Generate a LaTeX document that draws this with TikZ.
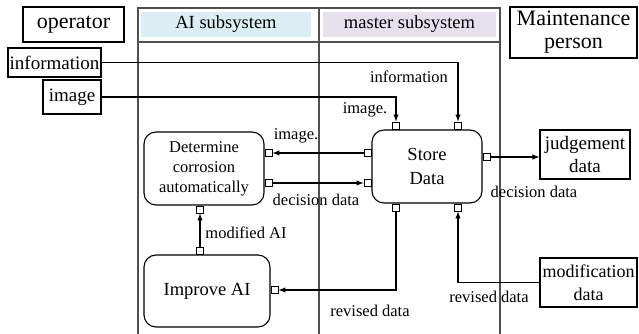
\documentclass[tikz,border=0pt]{standalone}
\usepackage{fontspec}
\setmainfont{Liberation Serif}
\usepackage{tikz}
\usetikzlibrary{shapes, arrows}
\definecolor{aiblue}{RGB}{218,238,243}
\definecolor{mastpurple}{RGB}{229,224,236}
\definecolor{framegray}{RGB}{80,80,80}
\tikzset{
  every port/.style={
    rectangle,
    draw,
    fill=white,
    line width=0.9pt,
    minimum size=7pt,
    inner sep=0pt
  },
  header/.style={
    rectangle,
    minimum height=25pt,
    inner sep=0pt,
    font=\fontsize{18.5}{20}\selectfont
  },
}
\tikzstyle{block} = [rectangle, rounded corners=12pt, draw=black, line width=1.1pt, align=center, inner sep=0pt, font=\fontsize{18.5}{24}\selectfont]
\tikzstyle{ext} = [rectangle, draw=black, line width=1.1pt, align=center, inner sep=0pt, font=\fontsize{19}{23}\selectfont]
\tikzstyle{lbl} = [inner sep=0pt, font=\fontsize{16.5}{18}\selectfont]
\tikzstyle{arrow} = [line width=1.4pt,->,>=latex]

\begin{document}
\begin{tikzpicture}[x=1pt, y=-1pt]
        \useasboundingbox (0,0) rectangle (639,334);
        % frame
        \node [header, fill=aiblue, minimum width=170pt] (aihead) at (226,24.5) {AI subsystem};
        \node [header, fill=mastpurple, minimum width=173pt] (masthead) at (409.5,24.5) {master subsystem};
        \draw [framegray, line width=1.3pt] (138,334) -- (138,8) -- (500,8) -- (500,334);
        \draw [framegray, line width=1.3pt] (138,42) -- (500,42);
        \draw [framegray, line width=1.3pt] (319,8) -- (319,334);

        % outside blocks
        \node [ext, minimum width=101pt, minimum height=35pt, font=\fontsize{22}{23}\selectfont] (operator) at (73.5,24.5) {operator};
        \node [ext, minimum width=127pt, minimum height=51pt, font=\fontsize{22}{23}\selectfont] (maint) at (573.5,32.5) {Maintenance\\person};
        \node [ext, minimum width=93pt, minimum height=29pt] (info) at (54.5,62.5) {information};
        \node [ext, minimum width=58pt, minimum height=34pt] (image) at (72,97) {image};
        \node [ext, minimum width=90pt, minimum height=49pt] (judge) at (585,154.5) {judgement\\data};
        \node [ext, minimum width=97pt, minimum height=49pt, font=\fontsize{18}{23}\selectfont] (modif) at (588.5,282.5) {modification\\data};

        % blocks
        \node [block, minimum width=120pt, minimum height=73pt, font=\fontsize{16.5}{20}\selectfont] (determine) at (204,168.5) {Determine\\corrosion\\automatically};
        \node [block, minimum width=126pt, minimum height=72pt] (improve) at (207,291) {Improve AI};
        \node [block, minimum width=110pt, minimum height=73pt] (store) at (427,166.5) {Store\\Data};

        % ports
        \node [every port, anchor=south] (stinfo) at (store.north -| 458,0) {};
        \node [every port, anchor=south] (stimg) at (store.north -| 396,0) {};
        \node [every port, anchor=east] (stleft1) at (store.west |- 0,153) {};
        \node [every port, anchor=east] (stleft2) at (store.west |- 0,183) {};
        \node [every port, anchor=west] (stright) at (store.east |- 0,157) {};
        \node [every port, anchor=north] (stbot1) at (store.south -| 396,0) {};
        \node [every port, anchor=north] (stbot2) at (store.south -| 458,0) {};
        \node [every port, anchor=west] (detright1) at (determine.east |- 0,153) {};
        \node [every port, anchor=west] (detright2) at (determine.east |- 0,183) {};
        \node [every port, anchor=north] (detbot) at (determine.south -| 200,0) {};
        \node [every port, anchor=south] (imptop) at (improve.north -| 200,0) {};
        \node [every port, anchor=west] (impright) at (improve.east |- 0,290) {};

        % arrows
        \draw [arrow] (info.east) -| (stinfo.north);
        \draw [arrow] (image.east) -| (stimg.north);
        \draw [arrow] (stleft1.west) -- (detright1.east);
        \draw [arrow] (detright2.east) -- (stleft2.west);
        \draw [arrow] (stright.east) -- (stright.east -| judge.west);
        \draw [arrow] (stbot1.south) |- (impright.east);
        \draw [arrow] (modif.west) -| (stbot2.south);
        \draw [arrow] (imptop.north) -- (detbot.south);

        % labels
        \node [lbl] (lblinfo) at (409,77) {information};
        \node [lbl] (lblimg) at (365,110) {image.};
        \node [lbl] (lblimgai) at (296,136) {image.};
        \node [lbl] (lbldec) at (316,200) {decision data};
        \node [lbl] (lbldecout) at (534,192) {decision data};
        \node [lbl] (lblmod) at (246,233) {modified AI};
        \node [lbl] (lblrev) at (370,311) {revised data};
        \node [lbl] (lblrevin) at (489,297) {revised data};
\end{tikzpicture}
\end{document}
